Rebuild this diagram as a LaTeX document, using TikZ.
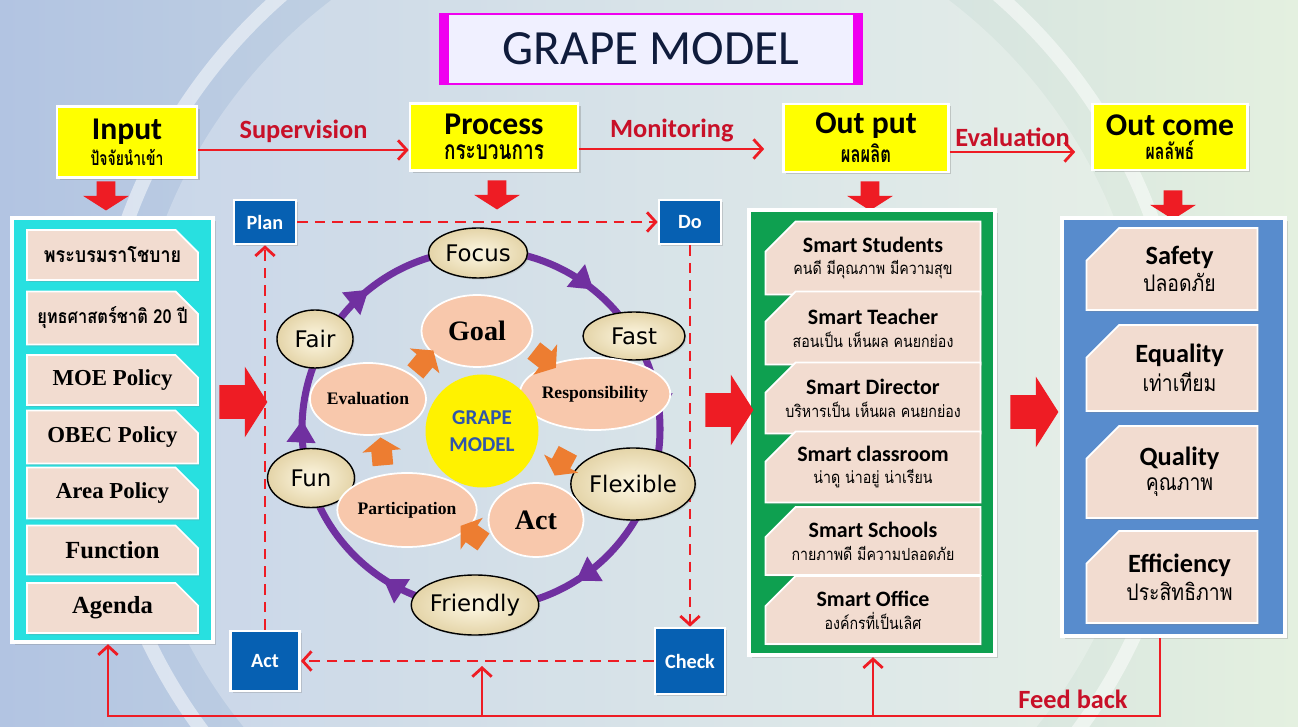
\documentclass[tikz,border=0pt]{standalone}
\usepackage{fontspec}
\setmainfont{Carlito}
\newfontfamily\thaifont[Script=Thai, FakeStretch=0.85]{Loma}
\newfontfamily\thaihdr[Script=Thai, FakeStretch=0.72]{Loma}
\newfontfamily\timesfont{Liberation Serif}
\newfontfamily\ovalfont{DejaVu Sans}
\usetikzlibrary{positioning,shapes.arrows,shapes.geometric,arrows.meta,decorations.markings,shadows}

\definecolor{hdryellow}{RGB}{255,255,0}
\definecolor{flowred}{RGB}{238,28,36}
\definecolor{labelred}{RGB}{200,16,40}
\definecolor{panelcyan}{RGB}{40,224,224}
\definecolor{panelgreen}{RGB}{14,160,80}
\definecolor{panelblue}{RGB}{88,140,205}
\definecolor{itemtan}{RGB}{242,220,208}
\definecolor{pdcablue}{RGB}{6,96,178}
\definecolor{cyclepurple}{RGB}{112,48,160}
\definecolor{ovalcream}{RGB}{252,242,208}
\definecolor{ovaledge}{RGB}{228,212,168}
\definecolor{innerpeach}{RGB}{248,200,172}
\definecolor{arrorange}{RGB}{237,125,49}
\definecolor{grapeblue}{RGB}{47,85,170}
\definecolor{titlemag}{RGB}{240,0,240}
\definecolor{titlenavy}{RGB}{16,28,60}
\definecolor{bgleft}{RGB}{178,196,226}
\definecolor{bgright}{RGB}{228,240,224}

\newcommand{\hdrtext}[3]{{\bfseries\fontsize{18}{19}\selectfont #1}\\[2pt]{\thaihdr\bfseries\fontsize{#2}{#2}\selectfont #3}}
\newcommand{\smarttext}[2]{{\bfseries\fontsize{12.5}{14}\selectfont #1}\\[1pt]{\thaifont\fontsize{9.5}{11}\selectfont #2}}
\newcommand{\goaltext}[2]{{\bfseries\fontsize{15}{16}\selectfont #1}\\[2pt]{\thaifont\fontsize{13}{14}\selectfont #2}}
% box with one cut corner: [node options]{flip}{name}{centre}{width}{height}{cut}{text}
\newcommand{\snipbox}[8][]{%
  \filldraw[snipfill, shift={(#4)}, xscale=#2]
    ({-#5/2},{#6/2}) -- ({#5/2-#7},{#6/2}) -- ({#5/2},{#6/2-#7}) -- ({#5/2},{-#6/2}) -- ({-#5/2},{-#6/2}) -- cycle;
  \node[align=center, inner sep=0pt, #1] (#3) at (#4) {#8};}

\begin{document}
\begin{tikzpicture}[
    hdr/.style={draw=white, line width=1.5pt, fill=hdryellow, align=center, inner sep=1pt,
        drop shadow={opacity=.35, shadow xshift=.05cm, shadow yshift=-.05cm}},
    flow/.style={draw=flowred, line width=1.6pt, -{Straight Barb[length=5pt,width=11pt]}},
    dflow/.style={flow, dash pattern=on 6pt off 4pt},
    flowlabel/.style={text=labelred, font=\bfseries\fontsize{15}{16}\selectfont},
    downarr/.style={single arrow, fill=flowred, rotate=-90, inner xsep=0pt, inner ysep=0.18cm,
        minimum height=0.58cm, single arrow head extend=0.27cm, single arrow tip angle=115},
    bigarr/.style={single arrow, fill=flowred, inner xsep=0pt, inner ysep=0.33cm,
        minimum height=0.96cm, single arrow head extend=0.37cm, single arrow tip angle=115},
    turn/.style={single arrow, fill=arrorange, inner xsep=0pt, inner ysep=0.2cm,
        minimum height=0.56cm, single arrow head extend=0.18cm, single arrow tip angle=110},
    panel/.style={draw=white, line width=2.5pt, inner sep=0pt,
        drop shadow={opacity=.3, shadow xshift=.06cm, shadow yshift=-.06cm}},
    snipfill/.style={fill=itemtan, draw=white, line width=1pt,
        drop shadow={opacity=.25, shadow xshift=.03cm, shadow yshift=-.04cm}},
    intext/.style={font=\timesfont\bfseries\fontsize{13}{14}\selectfont},
    inthai/.style={font=\thaifont\bfseries\fontsize{12}{13}\selectfont},
    pdca/.style={draw=white, line width=1.5pt, fill=pdcablue, text=white,
        font=\bfseries\fontsize{11.5}{12}\selectfont,
        drop shadow={opacity=.3, shadow xshift=.04cm, shadow yshift=-.04cm}},
    ring/.style={draw=cyclepurple, line width=4pt},
    oval/.style={ellipse, draw=black, line width=0.8pt, inner sep=0pt,
        inner color=ovalcream!60!white, outer color=ovaledge,
        font=\ovalfont\fontsize{13}{13}\selectfont,
        drop shadow={opacity=.25, shadow xshift=.03cm, shadow yshift=-.03cm}},
    petal/.style={ellipse, draw=white, line width=1pt, fill=innerpeach, inner sep=0pt,
        minimum width=2.26cm, minimum height=1.44cm, font=\timesfont\bfseries\fontsize{10}{10}\selectfont},
    hub/.style={circle, fill=yellow, minimum size=2.26cm, align=center, text=grapeblue,
        font=\bfseries\fontsize{12}{15}\selectfont},
    fb/.style={draw=flowred, line width=1.6pt},
    fbarrow/.style={fb, -{Straight Barb[length=5pt,width=11pt]}}
]
% background
\useasboundingbox (0,0) rectangle (25.96,14.52);
\begin{scope}
\clip (0,0) rectangle (25.96,14.52);
\shade[left color=bgleft, right color=bgright] (0,0) rectangle (25.96,14.52);
\fill[white, opacity=.25] (12.8,6.4) circle (10.2);
\draw[white, opacity=.5, line width=8pt] (12.8,6.4) circle (10.9);
\end{scope}

% title
\node[draw=titlemag, line width=1.2pt, fill=white!94!blue, minimum width=8.44cm, minimum height=1.4cm,
    text=titlenavy, font=\fontsize{28}{28}\selectfont] (title) at (13.02,13.54) {GRAPE MODEL};
\fill[titlemag] (title.north west) rectangle ([xshift=0.2cm]title.south west);
\fill[titlemag] (title.north east) rectangle ([xshift=-0.2cm]title.south east);

% headers
\node[hdr, minimum width=2.8cm, minimum height=1.42cm] (inp) at (2.54,11.68) {\hdrtext{Input}{11}{ปัจจัยนำเข้า}};
\node[hdr, minimum width=3.36cm, minimum height=1.34cm] (proc) at (9.88,11.78) {\hdrtext{Process}{15}{กระบวนการ}};
\node[hdr, minimum width=3.3cm, minimum height=1.36cm] (outp) at (17.32,11.76) {\hdrtext{Out put}{13}{ผลผลิต}};
\node[hdr, minimum width=3.1cm, minimum height=1.32cm] (outc) at (23.4,11.78) {\hdrtext{Out come}{12.5}{ผลลัพธ์}};

\draw[flow] ([yshift=-0.16cm]inp.east) -- ([yshift=-0.16cm]inp.east -| proc.west)
    node[midway, above, flowlabel] {Supervision};
\draw[flow] ([yshift=-0.24cm]proc.east) -- ([xshift=-0.36cm,yshift=-0.24cm]proc.east -| outp.west)
    node[midway, above, flowlabel] {Monitoring};
\draw[flow] ([yshift=-0.28cm]outp.east) -- ([xshift=-0.32cm,yshift=-0.28cm]outp.east -| outc.west)
    node[midway, above=-1pt, flowlabel] {Evaluation};

\node[downarr] (dinp) at (2.12,10.66) {};
\node[downarr] (dproc) at (9.94,10.68) {};
\node[downarr] (doutp) at (17.4,10.66) {};
\node[downarr] (doutc) at (23.46,10.48) {};

% input panel
\node[panel, fill=panelcyan, minimum width=4.02cm, minimum height=8.48cm] (inpanel) at (2.25,5.92) {};
\snipbox[inthai]{1}{in1}{2.25,9.42}{3.42}{1.0}{0.45}{พระบรมราโชบาย}
\snipbox[inthai, font=\thaifont\bfseries\fontsize{11}{13}\selectfont]{1}{in2}{2.25,8.16}{3.42}{1.06}{0.45}{ยุทธศาสตร์ชาติ 20 ปี}
\snipbox[intext]{1}{in3}{2.25,6.92}{3.42}{1.0}{0.45}{MOE Policy}
\snipbox[intext]{1}{in4}{2.25,5.78}{3.42}{1.06}{0.45}{OBEC Policy}
\snipbox[intext]{1}{in5}{2.25,4.66}{3.42}{1.02}{0.45}{Area Policy}
\snipbox[intext, font=\timesfont\bfseries\fontsize{14}{15}\selectfont]{1}{in6}{2.25,3.52}{3.42}{0.98}{0.45}{Function}
\snipbox[intext, font=\timesfont\bfseries\fontsize{14}{15}\selectfont]{1}{in7}{2.25,2.36}{3.42}{1.0}{0.45}{Agenda}

% output panel
\node[panel, fill=panelgreen, minimum width=4.92cm, minimum height=8.9cm] (outpanel) at (17.44,5.87) {};
\snipbox{-1}{out1}{17.46,9.36}{4.3}{1.46}{0.6}{\smarttext{Smart Students}{คนดี มีคุณภาพ มีความสุข}}
\snipbox{-1}{out2}{17.46,7.96}{4.3}{1.46}{0.6}{\smarttext{Smart Teacher}{สอนเป็น เห็นผล คนยกย่อง}}
\snipbox{-1}{out3}{17.46,6.56}{4.3}{1.42}{0.6}{\smarttext{Smart Director}{บริหารเป็น เห็นผล คนยกย่อง}}
\snipbox{-1}{out4}{17.46,5.18}{4.3}{1.42}{0.6}{\smarttext{Smart classroom}{น่าดู น่าอยู่ น่าเรียน}}
\snipbox{-1}{out5}{17.46,3.70}{4.3}{1.36}{0.6}{\smarttext{Smart Schools}{กายภาพดี มีความปลอดภัย}}
\snipbox{-1}{out6}{17.46,2.32}{4.3}{1.36}{0.6}{\smarttext{Smart Office}{องค์กรที่เป็นเลิศ}}

% outcome panel
\node[panel, fill=panelblue, minimum width=4.46cm, minimum height=8.36cm] (ocpanel) at (23.47,5.98) {};
\snipbox[xshift=0.15cm]{-1}{oc1}{23.44,9.14}{3.42}{1.64}{0.65}{\goaltext{Safety}{ปลอดภัย}}
\snipbox[xshift=0.15cm]{-1}{oc2}{23.44,7.16}{3.42}{1.72}{0.65}{\goaltext{Equality}{เท่าเทียม}}
\snipbox[xshift=0.15cm]{-1}{oc3}{23.44,5.08}{3.42}{1.84}{0.65}{\goaltext{Quality}{คุณภาพ}}
\snipbox[xshift=0.15cm]{-1}{oc4}{23.44,2.98}{3.42}{1.84}{0.65}{\goaltext{Efficiency}{ประสิทธิภาพ}}

\node[bigarr] (ain) at (4.76,6.48) {};
\node[bigarr] (aout) at (14.48,6.32) {};
\node[bigarr] (aoc) at (20.58,6.28) {};

% PDCA
\node[pdca, minimum width=1.24cm, minimum height=0.88cm] (plan) at (5.3,10.08) {Plan};
\node[pdca, minimum width=1.24cm, minimum height=0.88cm] (do) at (13.8,10.08) {Do};
\node[pdca, minimum width=1.4cm, minimum height=1.32cm] (check) at (13.8,1.30) {Check};
\node[pdca, minimum width=1.38cm, minimum height=1.2cm] (act) at (5.3,1.30) {Act};
\draw[dflow] (plan) -- (do);
\draw[dflow] (do) -- (check);
\draw[dflow] (check) -- (act);
\draw[dflow] (act) -- (plan);

% cycle
\draw[ring, postaction={decorate, decoration={markings,
    mark=at position 0.108 with {\arrow{Triangle[length=0.45cm,width=0.55cm,color=cyclepurple]}},
    mark=at position 0.239 with {\arrow{Triangle[length=0.45cm,width=0.55cm,color=cyclepurple]}},
    mark=at position 0.411 with {\arrow{Triangle[length=0.45cm,width=0.55cm,color=cyclepurple]}},
    mark=at position 0.592 with {\arrow{Triangle[length=0.45cm,width=0.55cm,color=cyclepurple]}},
    mark=at position 0.758 with {\arrow{Triangle[length=0.45cm,width=0.55cm,color=cyclepurple]}},
    mark=at position 0.892 with {\arrow{Triangle[length=0.45cm,width=0.55cm,color=cyclepurple]}}}}]
    (9.62,9.52) arc[start angle=90, end angle=-270, radius=3.58];

\node[oval, minimum width=1.98cm, minimum height=1cm] (focus) at (9.56,9.46) {Focus};
\node[oval, minimum width=2.04cm, minimum height=0.96cm] (fast) at (12.68,7.8) {Fast};
\node[oval, minimum width=2.06cm, minimum height=1.44cm] (flex) at (12.66,4.84) {Flexible};
\node[oval, minimum width=2.12cm, minimum height=1.2cm] (friend) at (9.5,2.42) {Friendly};
\node[oval, minimum width=1.74cm, minimum height=1.18cm] (fun) at (6.22,4.96) {Fun};
\node[oval, minimum width=1.52cm, minimum height=1.16cm] (fair) at (6.3,7.74) {Fair};

\node[petal, minimum width=2.22cm, font=\timesfont\bfseries\fontsize{16}{16}\selectfont] (goal) at (9.54,7.9) {Goal};
\node[petal, minimum width=2.28cm] (resp) at (11.9,6.64) {Responsibility};
\node[petal, minimum width=1.9cm, minimum height=1.48cm, font=\timesfont\bfseries\fontsize{16}{16}\selectfont] (actp) at (10.72,4.12) {Act};
\node[petal, minimum height=1.48cm] (part) at (8.14,4.32) {Participation};
\node[petal] (eval) at (7.36,6.54) {Evaluation};
\node[hub] (hub) at (9.64,5.9) {GRAPE\\MODEL};

\node[turn, rotate=50] (t1) at (8.44,7.24) {};
\node[turn, rotate=-38] (t2) at (10.84,7.38) {};
\node[turn, rotate=-118] (t3) at (11.26,5.32) {};
\node[turn, rotate=145] (t4) at (9.5,3.8) {};
\node[turn, rotate=95] (t5) at (7.64,5.42) {};

% feed back
\coordinate (fbR) at (23.2,0.2);
\coordinate (fbL) at (2.16,0.2);
\coordinate (fbM) at (9.64,0.2);
\coordinate (fbG) at (17.46,0.2);
\draw[fbarrow] (ocpanel.south -| fbR) -- (fbR) -- (fbL) -- (fbL |- inpanel.south);
\draw[fbarrow] (fbG) -- (fbG |- outpanel.south);
\draw[fbarrow] (fbM) -- ([yshift=-0.1cm]fbM |- check);
\node[flowlabel] (fblabel) at (21.46,0.54) {Feed back};
\end{tikzpicture}
\end{document}
